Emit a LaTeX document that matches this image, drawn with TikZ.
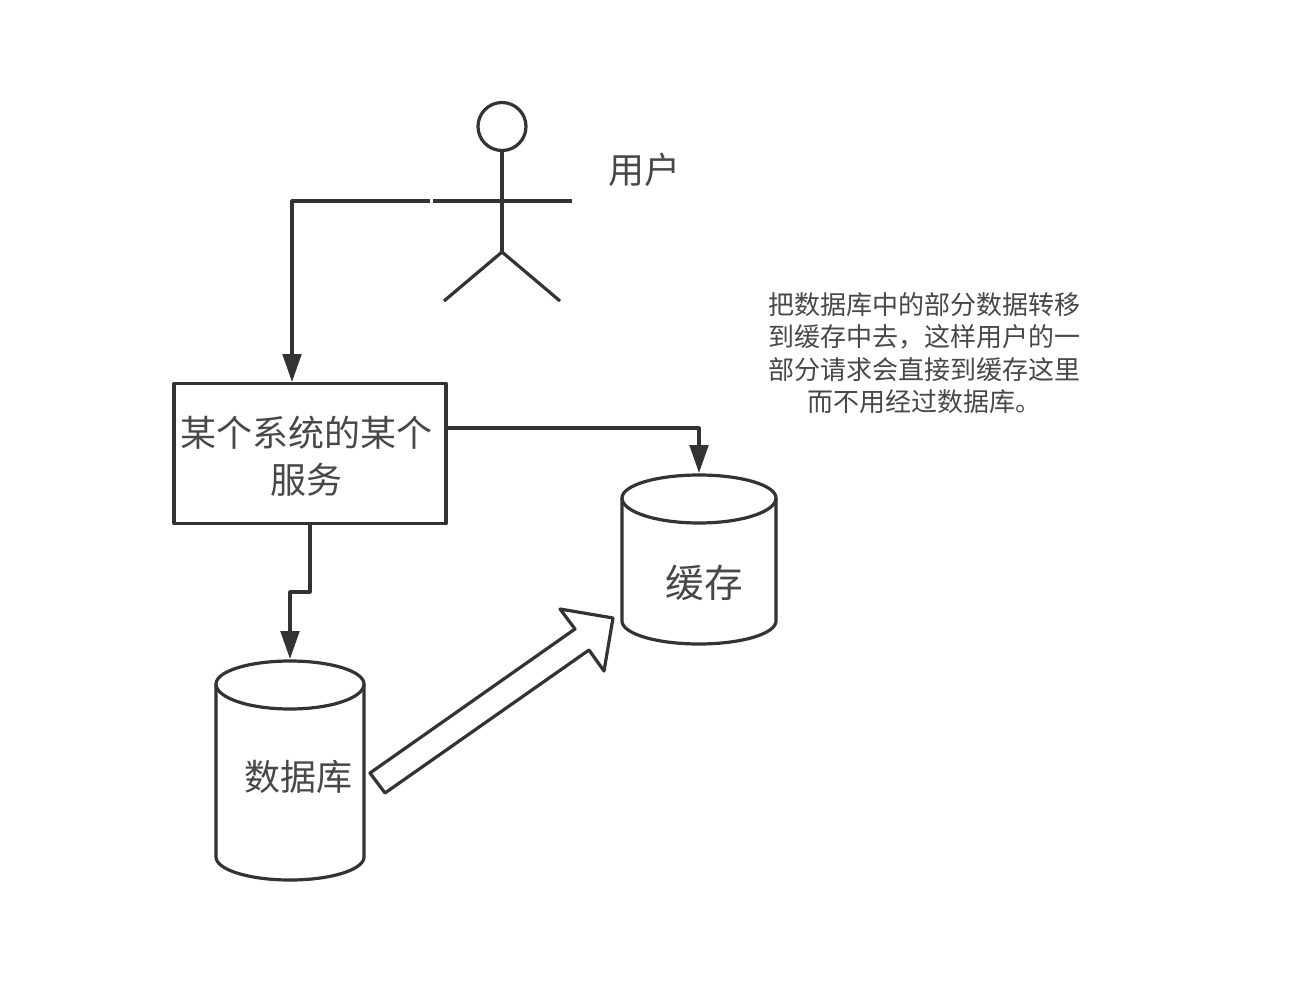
\documentclass[tikz,border=0pt]{standalone}
\usepackage{fontspec}
\newfontfamily\cjk{Noto Sans CJK SC}
\usetikzlibrary{arrows.meta}
\definecolor{ink}{HTML}{333333}
\definecolor{txt}{HTML}{484848}
\tikzset{
  line/.style={draw=ink,line width=2.4pt,line join=round},
  conn/.style={line,-{Triangle[length=21pt,width=14pt,fill=ink]}},
  lbl/.style={text=txt,font=\cjk,inner sep=0pt,align=center},
}
\begin{document}
\begin{tikzpicture}[x=0.75pt,y=-0.75pt]
\useasboundingbox[fill=white] (0,0) rectangle (1302,984);
% actor
\node[line,circle,minimum size=36pt,inner sep=0pt] (head) at (502,126.5) {};
\coordinate (hip) at (502,252);
\coordinate (armL) at (433,201);
\coordinate (armR) at (572,201);
\coordinate (legL) at (444,301);
\coordinate (legR) at (560,301);
\coordinate (start) at (430,201);
\draw[line] (head.south) -- (hip);
\draw[line] (armL) -- (armR);
\draw[line] (legL) -- (hip) -- (legR);
\node[lbl,font=\cjk\fontsize{27pt}{32pt}\selectfont] (user) at (644,170) {用户};
% note
\node[lbl,font=\cjk\fontsize{19.5pt}{24.2pt}\selectfont] (note) at (924,353) {把数据库中的部分数据转移\\到缓存中去，这样用户的一\\部分请求会直接到缓存这里\\而不用经过数据库。};
% service
\node[line,minimum width=204pt,minimum height=105pt,inner sep=0pt] (svc) at (310,453.5) {};
\node[lbl,font=\cjk\fontsize{27pt}{35pt}\selectfont] (svct) at (306,456) {某个系统的某个\\服务};
% cache
\coordinate (c) at (699,473);
\draw[line] (622,498) arc[start angle=180,end angle=360,x radius=77,y radius=23] -- (776,621) arc[start angle=0,end angle=180,x radius=77,y radius=23] -- cycle;
\draw[line] (622,498) arc[start angle=180,end angle=0,x radius=77,y radius=25];
\node[lbl,font=\cjk\fontsize{29pt}{35pt}\selectfont] (cachet) at (704,583) {缓存};
% db
\coordinate (d) at (290,659);
\draw[line] (216,684) arc[start angle=180,end angle=360,x radius=74,y radius=23] -- (364,857) arc[start angle=0,end angle=180,x radius=74,y radius=23] -- cycle;
\draw[line] (216,684) arc[start angle=180,end angle=0,x radius=74,y radius=25];
\node[lbl,font=\cjk\fontsize{27pt}{33pt}\selectfont] (dbt) at (298,777) {数据库};
% connectors
\draw[conn] (start) -- (292,201) -- (292,382);
\draw[conn] (svc.east |- 0,428) -- (699,428) -- (c);
\draw[conn] (310,524) -- (310,592) -- (290,592) -- (d);
% block arrow
\draw[line,fill=white] (370,773) -- (575,629) -- (560,609) -- (613,618) -- (604,671) -- (589,650) -- (385,793) -- cycle;
\end{tikzpicture}
\end{document}
